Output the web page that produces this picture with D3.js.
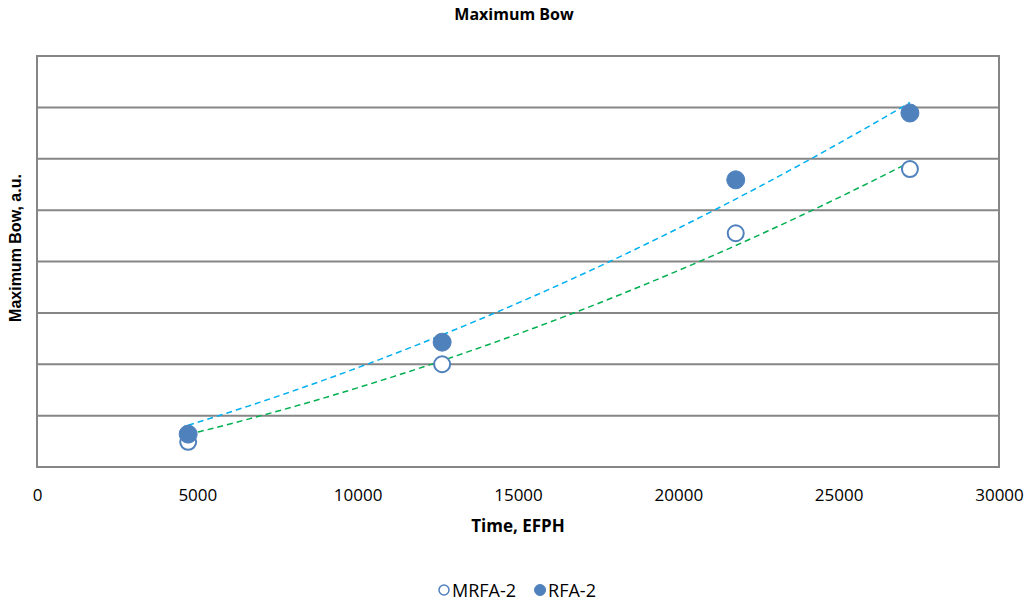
<!DOCTYPE html>
<html>
<head>
<meta charset="utf-8">
<script src="https://cdn.jsdelivr.net/npm/d3@7"></script>
<style>
  body { margin: 0; background: #fff; }
  text { font-family: "Open Sans", sans-serif; fill: #000; }
</style>
</head>
<body>
<div id="chart"></div>
<script>
// Data
const timeValues = [4714, 12634, 21790, 27222];
const mrfaBow = [0.49, 2.0, 4.55, 5.8];
const rfaBow = [0.64, 2.43, 5.59, 6.89];
const xTicks = [0, 5000, 10000, 15000, 20000, 25000, 30000];
const yGrid = [1, 2, 3, 4, 5, 6, 7, 8];

const series = [
    { name: 'MRFA-2', values: mrfaBow, filled: false, trend: '#00B050' },
    { name: 'RFA-2', values: rfaBow, filled: true, trend: '#00B0F0' }
];

const W = 1031, H = 600;
const margin = { top: 56, right: 32, bottom: 133, left: 37 };
const width = W - margin.left - margin.right;
const height = H - margin.top - margin.bottom;

const svg = d3.select('#chart').append('svg')
    .attr('width', W).attr('height', H);

const g = svg.append('g')
    .attr('transform', `translate(${margin.left},${margin.top})`);

const x = d3.scaleLinear().domain([0, 30000]).range([0, width]);
const y = d3.scaleLinear().domain([0, 8]).range([height, 0]);

// gridlines
g.selectAll('.grid').data(yGrid).enter().append('line')
    .attr('x1', 0).attr('x2', width)
    .attr('y1', d => y(d)).attr('y2', d => y(d))
    .attr('stroke', '#868686').attr('stroke-width', 2);

// plot frame
g.append('rect')
    .attr('width', width).attr('height', height)
    .attr('fill', 'none').attr('stroke', '#868686').attr('stroke-width', 2);

// x tick labels
const xAxis = d3.axisBottom(x).tickValues(xTicks).tickSize(0).tickPadding(22).tickFormat(d3.format('d'));
const xg = g.append('g').attr('transform', `translate(0,${height})`).call(xAxis);
xg.select('.domain').remove();
xg.selectAll('text').style('font-size', '17px').style('font-family', '"Open Sans", sans-serif');

// 2nd order polynomial trendline with intercept set to 0 (least squares)
function polyFit0(xs, ys) {
    let s2 = 0, s3 = 0, s4 = 0, t1 = 0, t2 = 0;
    xs.forEach((xv, i) => {
        s2 += xv * xv; s3 += xv * xv * xv; s4 += xv * xv * xv * xv;
        t1 += xv * ys[i]; t2 += xv * xv * ys[i];
    });
    const det = s2 * s4 - s3 * s3;
    const b = (t1 * s4 - s3 * t2) / det;
    const c = (s2 * t2 - s3 * t1) / det;
    return xv => b * xv + c * xv * xv;
}

const line = d3.line().x(d => x(d[0])).y(d => y(d[1]));

series.forEach(s => {
    const f = polyFit0(timeValues, s.values);
    const x0 = d3.min(timeValues), x1 = d3.max(timeValues);
    const xs = d3.range(0, 61).map(i => x0 + (x1 - x0) * i / 60);
    g.append('path')
        .datum(xs.map(xv => [xv, f(xv)]))
        .attr('d', line)
        .attr('fill', 'none')
        .attr('stroke', s.trend)
        .attr('stroke-width', 1.5)
        .attr('stroke-dasharray', '6,4');
});

series.forEach(s => {
    g.selectAll(null).data(s.values).enter().append('circle')
        .attr('cx', (d, i) => x(timeValues[i]))
        .attr('cy', d => y(d))
        .attr('r', s.filled ? 9 : 8)
        .attr('fill', s.filled ? '#4F81BD' : '#fff')
        .attr('stroke', '#4F81BD')
        .attr('stroke-width', s.filled ? 1 : 2);
});

// title
svg.append('text')
    .attr('x', 514).attr('y', 20)
    .attr('text-anchor', 'middle')
    .style('font-size', '16px').style('font-weight', 'bold')
    .text('Maximum Bow');

// axis titles
svg.append('text')
    .attr('x', 518).attr('y', 532)
    .attr('text-anchor', 'middle')
    .style('font-size', '17px').style('font-weight', 'bold')
    .text('Time, EFPH');

svg.append('text')
    .attr('transform', 'translate(21,248) rotate(-90)')
    .attr('text-anchor', 'middle')
    .style('font-family', '"Liberation Sans", Arial, sans-serif')
    .style('font-size', '16px').style('font-weight', 'bold')
    .text('Maximum Bow, a.u.');

// legend
const legend = svg.append('g').attr('transform', 'translate(439,590)');
let lx = 0;
series.forEach(s => {
    legend.append('circle')
        .attr('cx', lx + 5).attr('cy', 0).attr('r', s.filled ? 5.5 : 5)
        .attr('fill', s.filled ? '#4F81BD' : '#fff')
        .attr('stroke', '#4F81BD').attr('stroke-width', s.filled ? 1 : 1.5);
    const t = legend.append('text')
        .attr('x', lx + 13).attr('y', 6.5)
        .style('font-size', '18px')
        .text(s.name);
    lx += 13 + t.node().getComputedTextLength() + 19;
});
</script>
</body>
</html>
